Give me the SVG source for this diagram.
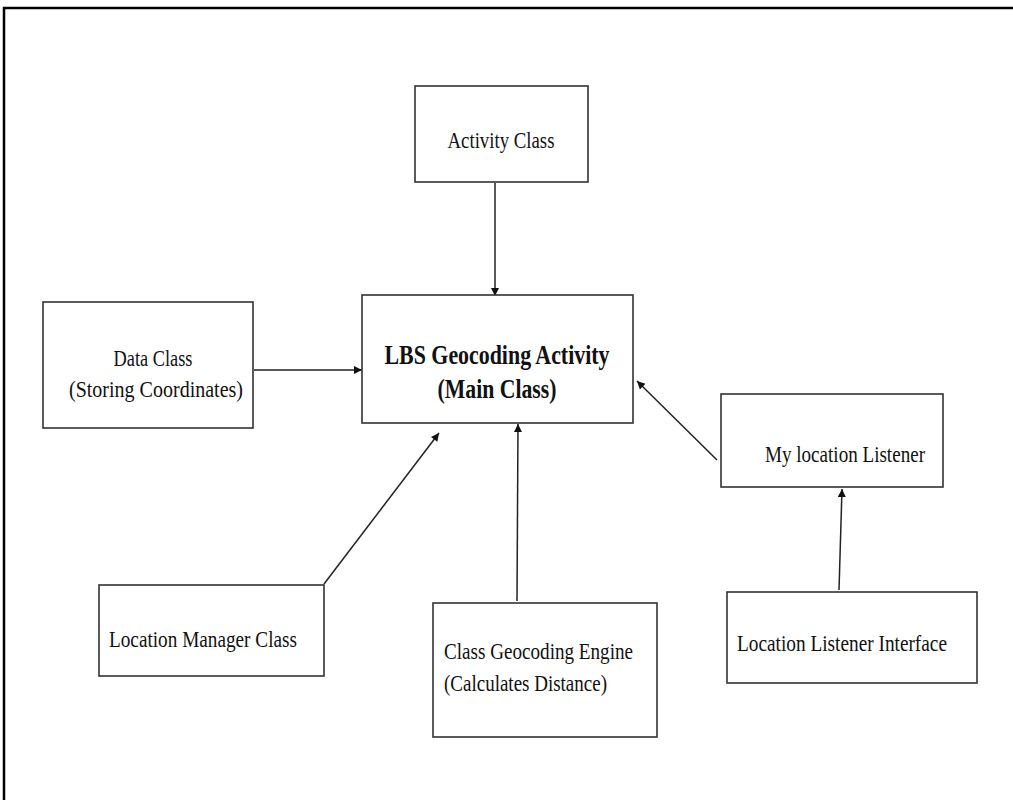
<svg xmlns="http://www.w3.org/2000/svg" width="1013" height="800" viewBox="0 0 1013 800">
<style>
.box{fill:#fff;stroke:#333;stroke-width:1.6}
.t{font-family:"Liberation Serif","Times New Roman",serif;font-size:23px;fill:#111}
.b{font-family:"Liberation Serif","Times New Roman",serif;font-size:28px;font-weight:bold;fill:#111}
.c{stroke:#222;stroke-width:1.5;fill:none;marker-end:url(#ah)}
</style>
<defs>
<marker id="ah" viewBox="0 0 10 10" refX="10" refY="5" markerWidth="10" markerHeight="8" markerUnits="userSpaceOnUse" orient="auto"><path d="M0,0 L10,5 L0,10 z" fill="#111"/></marker>
</defs>
<rect width="1013" height="800" fill="#fff"/>
<path d="M4,800 L4,8 L1013,8" fill="none" stroke="#000" stroke-width="2.5"/>
<g id="connectors">
<line class="c" x1="495" y1="183" x2="495" y2="296"/>
<line class="c" x1="254" y1="370" x2="362" y2="370"/>
<line class="c" x1="717" y1="460" x2="637" y2="381"/>
<line class="c" x1="839" y1="590" x2="842" y2="489"/>
<line class="c" x1="324" y1="584" x2="439" y2="433"/>
<line class="c" x1="517" y1="601" x2="518" y2="424"/>
</g>
<g id="activity"><rect class="box" x="415" y="86" width="173" height="96"/><text class="t" x="501" y="148" text-anchor="middle" textLength="107" lengthAdjust="spacingAndGlyphs">Activity Class</text></g>
<g id="main"><rect class="box" x="362" y="295" width="271" height="128"/><text class="b" x="497" y="364" text-anchor="middle" textLength="225" lengthAdjust="spacingAndGlyphs">LBS Geocoding Activity</text><text class="b" x="497" y="398" text-anchor="middle" textLength="119" lengthAdjust="spacingAndGlyphs">(Main Class)</text></g>
<g id="data"><rect class="box" x="43" y="302" width="210" height="126"/><text class="t" x="153" y="366" text-anchor="middle" textLength="79" lengthAdjust="spacingAndGlyphs">Data Class</text><text class="t" x="156" y="397" text-anchor="middle" textLength="174" lengthAdjust="spacingAndGlyphs">(Storing Coordinates)</text></g>
<g id="mylistener"><rect class="box" x="721" y="394" width="222" height="93"/><text class="t" x="765" y="462" textLength="160" lengthAdjust="spacingAndGlyphs">My location Listener</text></g>
<g id="interface"><rect class="box" x="727" y="592" width="250" height="91"/><text class="t" x="737" y="651" textLength="210" lengthAdjust="spacingAndGlyphs">Location Listener Interface</text></g>
<g id="manager"><rect class="box" x="99" y="585" width="225" height="91"/><text class="t" x="109" y="647" textLength="188" lengthAdjust="spacingAndGlyphs">Location Manager Class</text></g>
<g id="engine"><rect class="box" x="433" y="603" width="224" height="134"/><text class="t" x="444" y="659" textLength="189" lengthAdjust="spacingAndGlyphs">Class Geocoding Engine</text><text class="t" x="444" y="691" textLength="163" lengthAdjust="spacingAndGlyphs">(Calculates Distance)</text></g>
</svg>
